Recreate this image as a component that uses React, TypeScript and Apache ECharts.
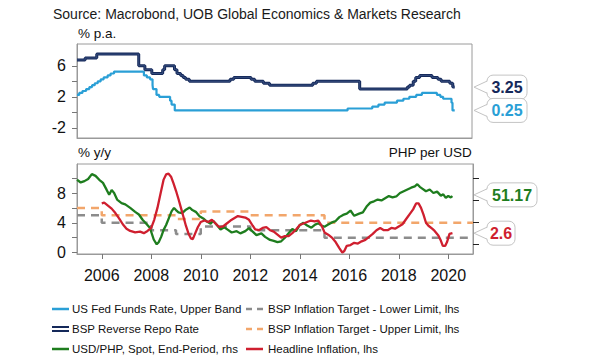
import React, { useEffect, useRef } from "react";
import * as echarts from "echarts";

// ---------- DATA ----------
const fedDates = [2005.0, 2005.09, 2005.22, 2005.37, 2005.5, 2005.61, 2005.72, 2005.84, 2005.96, 2006.08, 2006.24, 2006.36, 2006.5, 2007.71, 2007.83, 2007.96, 2008.06, 2008.08, 2008.22, 2008.33, 2008.77, 2008.83, 2008.96, 2015.96, 2016.96, 2017.21, 2017.46, 2017.96, 2018.22, 2018.46, 2018.74, 2018.97, 2019.58, 2019.72, 2019.83, 2020.17, 2020.21, 2020.3];
const fedValues = [2.25, 2.5, 2.75, 3.0, 3.25, 3.5, 3.75, 4.0, 4.25, 4.5, 4.75, 5.0, 5.25, 4.75, 4.5, 4.25, 3.5, 3.0, 2.25, 2.0, 1.5, 1.0, 0.25, 0.5, 0.75, 1.0, 1.25, 1.5, 1.75, 2.0, 2.25, 2.5, 2.25, 2.0, 1.75, 1.25, 0.25, 0.25];

const bspDates = [2005.0, 2005.33, 2005.8, 2007.5, 2007.75, 2008.03, 2008.47, 2008.55, 2008.95, 2009.05, 2009.2, 2009.3, 2009.4, 2009.55, 2011.2, 2011.35, 2012.05, 2012.2, 2012.55, 2012.8, 2014.55, 2014.7, 2016.45, 2018.38, 2018.47, 2018.62, 2018.72, 2018.88, 2019.38, 2019.62, 2019.75, 2020.1, 2020.22, 2020.3];
const bspValues = [6.75, 7.0, 7.5, 6.0, 5.5, 5.0, 5.5, 6.0, 5.5, 5.0, 4.75, 4.5, 4.25, 4.0, 4.25, 4.5, 4.25, 4.0, 3.75, 3.5, 3.75, 4.0, 3.0, 3.25, 3.5, 4.0, 4.5, 4.75, 4.5, 4.25, 4.0, 3.75, 3.25, 3.25];

const targetYears = [2005, 2006, 2007, 2008, 2009, 2010, 2011, 2012, 2013, 2014, 2015, 2016, 2017, 2018, 2019, 2020, 2021];
const targetLower = [5, 4, 4, 3, 2.5, 3.5, 3.5, 3, 3, 3, 2, 2, 2, 2, 2, 2, 2];
const targetUpper = [6, 5, 5, 5, 4.5, 5.5, 5.5, 5, 5, 5, 4, 4, 4, 4, 4, 4, 4];

const cpiDates = [2006.0, 2006.1, 2006.25, 2006.4, 2006.55, 2006.7, 2006.85, 2007.0, 2007.15, 2007.35, 2007.55, 2007.7, 2007.85, 2008.0, 2008.12, 2008.25, 2008.38, 2008.5, 2008.6, 2008.7, 2008.8, 2008.9, 2009.0, 2009.1, 2009.2, 2009.3, 2009.4, 2009.5, 2009.6, 2009.68, 2009.78, 2009.88, 2010.0, 2010.15, 2010.3, 2010.45, 2010.6, 2010.75, 2010.9, 2011.05, 2011.2, 2011.35, 2011.5, 2011.65, 2011.8, 2011.95, 2012.1, 2012.2, 2012.35, 2012.5, 2012.65, 2012.8, 2012.95, 2013.1, 2013.25, 2013.4, 2013.55, 2013.7, 2013.85, 2014.0, 2014.15, 2014.3, 2014.45, 2014.6, 2014.75, 2014.9, 2015.0, 2015.15, 2015.3, 2015.45, 2015.6, 2015.72, 2015.8, 2015.9, 2016.05, 2016.2, 2016.35, 2016.5, 2016.65, 2016.8, 2016.95, 2017.1, 2017.25, 2017.4, 2017.55, 2017.7, 2017.85, 2018.0, 2018.15, 2018.3, 2018.45, 2018.58, 2018.7, 2018.8, 2018.9, 2019.0, 2019.1, 2019.2, 2019.35, 2019.45, 2019.6, 2019.7, 2019.78, 2019.88, 2019.95, 2020.05, 2020.17];
const cpiValues = [6.6, 6.7, 6.3, 5.9, 5.3, 4.6, 3.8, 3.2, 2.9, 2.7, 2.8, 2.6, 2.9, 3.3, 4.4, 6.0, 8.0, 9.8, 10.5, 10.6, 10.2, 9.3, 8.3, 7.2, 6.0, 4.8, 3.6, 2.6, 1.9, 1.8, 2.6, 3.4, 4.1, 4.3, 4.1, 4.4, 3.9, 3.4, 3.5, 3.9, 4.3, 4.6, 4.9, 4.8, 4.7, 4.4, 3.6, 3.1, 3.0, 3.3, 3.4, 3.0, 2.8, 2.4, 2.0, 2.2, 2.2, 2.6, 3.1, 3.7, 3.9, 4.1, 4.3, 4.2, 4.3, 3.5, 2.7, 2.4, 2.0, 1.4, 0.6, 0.0, 0.2, 0.9, 1.0, 1.3, 1.2, 1.5, 1.7, 2.1, 2.5, 3.0, 3.3, 3.0, 3.0, 3.3, 3.2, 3.5, 3.8, 4.5, 5.2, 5.8, 6.6, 6.6, 6.0, 5.1, 4.0, 3.6, 3.2, 2.9, 2.3, 1.6, 0.9, 0.9, 1.4, 2.5, 2.6];

const fxDates = [2005.0, 2005.15, 2005.3, 2005.45, 2005.6, 2005.75, 2005.9, 2006.05, 2006.2, 2006.3, 2006.4, 2006.5, 2006.62, 2006.8, 2006.95, 2007.15, 2007.35, 2007.5, 2007.65, 2007.8, 2007.95, 2008.1, 2008.22, 2008.3, 2008.4, 2008.5, 2008.6, 2008.72, 2008.82, 2008.92, 2009.0, 2009.1, 2009.25, 2009.4, 2009.55, 2009.66, 2009.8, 2009.95, 2010.1, 2010.25, 2010.4, 2010.5, 2010.65, 2010.8, 2010.95, 2011.1, 2011.25, 2011.45, 2011.6, 2011.8, 2011.95, 2012.1, 2012.25, 2012.45, 2012.6, 2012.8, 2012.95, 2013.1, 2013.25, 2013.4, 2013.55, 2013.7, 2013.85, 2014.0, 2014.15, 2014.3, 2014.47, 2014.62, 2014.75, 2014.88, 2015.0, 2015.15, 2015.3, 2015.45, 2015.6, 2015.75, 2015.9, 2016.05, 2016.2, 2016.4, 2016.55, 2016.7, 2016.85, 2017.0, 2017.15, 2017.3, 2017.45, 2017.6, 2017.75, 2017.9, 2018.05, 2018.2, 2018.35, 2018.5, 2018.65, 2018.75, 2018.85, 2018.95, 2019.1, 2019.25, 2019.4, 2019.55, 2019.7, 2019.8, 2019.9, 2020.0, 2020.1, 2020.17];
const fxValues = [54.6, 54.0, 54.3, 54.8, 55.9, 55.5, 54.6, 53.9, 52.3, 51.2, 52.3, 51.6, 50.1, 49.3, 49.0, 48.2, 47.3, 46.7, 45.5, 44.6, 43.6, 41.0, 39.9, 40.4, 41.6, 43.2, 44.3, 46.0, 47.4, 48.2, 47.7, 47.2, 47.0, 47.8, 48.3, 47.7, 47.3, 46.3, 45.8, 45.1, 44.6, 45.3, 44.3, 43.3, 43.8, 43.2, 42.6, 42.9, 42.4, 42.9, 43.6, 42.8, 42.0, 42.4, 41.6, 40.9, 40.7, 40.4, 40.6, 41.4, 42.4, 43.4, 42.9, 44.3, 44.8, 44.2, 43.7, 44.4, 44.7, 44.2, 43.9, 44.4, 44.9, 45.2, 46.1, 46.6, 46.9, 47.6, 46.4, 46.9, 47.2, 48.5, 49.4, 49.7, 50.1, 49.9, 50.4, 50.9, 50.6, 50.8, 51.6, 52.0, 52.4, 52.8, 53.1, 53.6, 53.0, 52.6, 52.0, 52.4, 51.6, 51.9, 51.0, 51.3, 50.5, 50.9, 50.6, 50.9];

const yearTicks = [2006, 2008, 2010, 2012, 2014, 2016, 2018, 2020];
const topTicks = [-2, 0, 2, 4, 6];
const topLabels = [-2, 2, 6];
const botTicks = [0, 2, 4, 6, 8, 10];
const botLabels = [0, 4, 8];
const fxTicks = [40, 45, 50, 55];

const callouts = [
  { text: "3.25", value: 3.25, axis: 0, color: "#15295a", width: 40 },
  { text: "0.25", value: 0.25, axis: 0, color: "#2a9fd6", width: 40 },
  { text: "51.17", value: 51.17, axis: 2, color: "#1e7d1e", width: 50 },
  { text: "2.6", value: 2.6, axis: 1, color: "#cf1f2f", width: 28 },
];

const legendItems = [
  { name: "US Fed Funds Rate, Upper Band", kind: "line", color: "#2a9fd6", col: 0, row: 0 },
  { name: "BSP Reverse Repo Rate", kind: "double", color: "#15295a", col: 0, row: 1 },
  { name: "USD/PHP, Spot, End-Period, rhs", kind: "line", color: "#1e7d1e", col: 0, row: 2 },
  { name: "BSP Inflation Target - Lower Limit, lhs", kind: "dash", color: "#8c8c8c", col: 1, row: 0 },
  { name: "BSP Inflation Target - Upper Limit, lhs", kind: "dash", color: "#f2a66b", col: 1, row: 1 },
  { name: "Headline Inflation, lhs", kind: "line", color: "#cf1f2f", col: 1, row: 2 },
];

const zip = (d: number[], v: number[]) => d.map((x, i) => [x, v[i]]);

export default function App() {
  const ref = useRef<HTMLDivElement>(null);
  useEffect(() => {
    if (!ref.current) return;
    const chart = echarts.init(ref.current, null, { renderer: "svg" });
    const font = "'Liberation Sans', Arial, sans-serif";
    const axisLineStyle = { show: true, onZero: false, lineStyle: { color: "#9a9a9a", width: 1 } };
    const tickStyle = { lineStyle: { color: "#777", width: 1 } };

    const option: any = {
      animation: false,
      backgroundColor: "#fff",
      textStyle: { fontFamily: font },
      grid: [
        { left: 77, top: 44, width: 395, height: 94, show: true, borderColor: "#9a9a9a", borderWidth: 1, containLabel: false },
        { left: 77, top: 164, width: 396, height: 90, show: true, borderColor: "#9a9a9a", borderWidth: 1, containLabel: false },
      ],
      xAxis: [
        { type: "value", gridIndex: 0, min: 2005, max: 2021, axisLine: axisLineStyle, axisTick: { show: false }, axisLabel: { show: false }, splitLine: { show: false } },
        {
          type: "value", gridIndex: 1, min: 2005, max: 2021,
          axisLine: axisLineStyle,
          axisTick: { show: true, length: 5, customValues: yearTicks, ...tickStyle },
          axisLabel: { show: true, customValues: yearTicks, formatter: (v: number) => String(v), fontSize: 16, color: "#111", margin: 13, fontFamily: font },
          splitLine: { show: false },
        },
      ],
      yAxis: [
        {
          type: "value", gridIndex: 0, min: -3.3, max: 8.8,
          axisLine: axisLineStyle,
          axisTick: { show: true, length: 5, customValues: topTicks, ...tickStyle },
          axisLabel: { show: true, customValues: topLabels, fontSize: 16, color: "#111", margin: 11, fontFamily: font },
          splitLine: { show: false },
        },
        {
          type: "value", gridIndex: 1, min: -0.2, max: 11.9,
          axisLine: axisLineStyle,
          axisTick: { show: true, length: 5, customValues: botTicks, ...tickStyle },
          axisLabel: { show: true, customValues: botLabels, fontSize: 16, color: "#111", margin: 11, fontFamily: font },
          splitLine: { show: false },
        },
        {
          type: "value", gridIndex: 1, position: "right", min: 37.7, max: 58.2,
          axisLine: axisLineStyle,
          axisTick: { show: true, length: 6, customValues: fxTicks, lineStyle: { color: "#222", width: 1 } },
          axisLabel: { show: false },
          splitLine: { show: false },
        },
      ],
      series: [
        { type: "line", name: "US Fed Funds Rate, Upper Band", xAxisIndex: 0, yAxisIndex: 0, data: zip(fedDates, fedValues), step: "end", showSymbol: false, lineStyle: { color: "#2a9fd6", width: 2.2 }, z: 3 },
        { type: "line", name: "BSP Reverse Repo Rate", xAxisIndex: 0, yAxisIndex: 0, data: zip(bspDates, bspValues), step: "end", showSymbol: false, lineStyle: { color: "#15295a", width: 3 }, z: 4 },
        { type: "line", name: "BSP inner", xAxisIndex: 0, yAxisIndex: 0, data: zip(bspDates, bspValues), step: "end", showSymbol: false, lineStyle: { color: "#4b6596", width: 0.6 }, z: 5 },
        { type: "line", name: "BSP Inflation Target - Lower Limit, lhs", xAxisIndex: 1, yAxisIndex: 1, data: zip(targetYears, targetLower), step: "end", showSymbol: false, lineStyle: { color: "#8c8c8c", width: 2.5, type: [8, 6] }, z: 2 },
        { type: "line", name: "BSP Inflation Target - Upper Limit, lhs", xAxisIndex: 1, yAxisIndex: 1, data: zip(targetYears, targetUpper), step: "end", showSymbol: false, lineStyle: { color: "#f2a66b", width: 2.5, type: [8, 6] }, z: 2 },
        { type: "line", name: "USD/PHP, Spot, End-Period, rhs", xAxisIndex: 1, yAxisIndex: 2, data: zip(fxDates, fxValues), showSymbol: false, lineStyle: { color: "#1e7d1e", width: 2.3 }, z: 3 },
        { type: "line", name: "Headline Inflation, lhs", xAxisIndex: 1, yAxisIndex: 1, data: zip(cpiDates, cpiValues), showSymbol: false, lineStyle: { color: "#cf1f2f", width: 2.3 }, z: 4 },
      ],
    };
    chart.setOption(option);

    const graphics: any[] = [];
    graphics.push({ type: "text", left: 53, top: 7, style: { text: "Source: Macrobond, UOB Global Economics & Markets Research", font: `14px ${font}`, fill: "#1a1a1a" } });
    graphics.push({ type: "text", left: 78, top: 26, style: { text: "% p.a.", font: `13.5px ${font}`, fill: "#111" } });
    graphics.push({ type: "text", left: 78, top: 145, style: { text: "% y/y", font: `13.5px ${font}`, fill: "#111" } });
    graphics.push({ type: "text", right: 127, top: 145, style: { text: "PHP per USD", font: `13.5px ${font}`, fill: "#111" } });

    // callouts
    const boxLeft = 487;
    const tipX = 474;
    const boxH = 24;
    callouts.forEach((c) => {
      const y = chart.convertToPixel({ yAxisIndex: c.axis } as any, c.value) as number;
      const top = y - boxH / 2;
      graphics.push({ type: "rect", shape: { x: boxLeft, y: top, width: c.width, height: boxH, r: 6 }, style: { fill: "#fff", stroke: "#c4c4c4", lineWidth: 1 }, z: 10 });
      graphics.push({ type: "polygon", shape: { points: [[tipX, y], [boxLeft + 1.5, y - 6], [boxLeft + 1.5, y + 6]] }, style: { fill: "#fff", stroke: null }, z: 11 });
      graphics.push({ type: "polyline", shape: { points: [[boxLeft, y - 6], [tipX, y], [boxLeft, y + 6]] }, style: { stroke: "#c4c4c4", lineWidth: 1, fill: null }, z: 12 });
      graphics.push({ type: "text", x: boxLeft + c.width / 2, y: y + 0.5, style: { text: c.text, font: `bold 16px ${font}`, fill: c.color, textAlign: "center", textVerticalAlign: "middle" }, z: 13 });
    });

    // legend
    const colIcon = [52, 246];
    const colText = [72, 268];
    const rowY = [309, 329, 349];
    legendItems.forEach((it) => {
      const x0 = colIcon[it.col];
      const y = rowY[it.row];
      if (it.kind === "line") {
        graphics.push({ type: "line", shape: { x1: x0, y1: y, x2: x0 + 17, y2: y }, style: { stroke: it.color, lineWidth: 2.5 } });
      } else if (it.kind === "double") {
        graphics.push({ type: "line", shape: { x1: x0, y1: y - 2, x2: x0 + 17, y2: y - 2 }, style: { stroke: it.color, lineWidth: 2 } });
        graphics.push({ type: "line", shape: { x1: x0, y1: y + 2, x2: x0 + 17, y2: y + 2 }, style: { stroke: it.color, lineWidth: 2 } });
      } else {
        graphics.push({ type: "line", shape: { x1: x0, y1: y, x2: x0 + 6, y2: y }, style: { stroke: it.color, lineWidth: 2.5 } });
        graphics.push({ type: "line", shape: { x1: x0 + 11, y1: y, x2: x0 + 17, y2: y }, style: { stroke: it.color, lineWidth: 2.5 } });
      }
      graphics.push({ type: "text", x: colText[it.col], y: y, style: { text: it.name, font: `11.5px ${font}`, fill: "#111", textVerticalAlign: "middle" } });
    });

    chart.setOption({ graphic: { elements: graphics } });
    return () => chart.dispose();
  }, []);

  return <div ref={ref} style={{ position: "fixed", left: 0, top: 0, width: 599, height: 360, background: "#fff" }} />;
}
